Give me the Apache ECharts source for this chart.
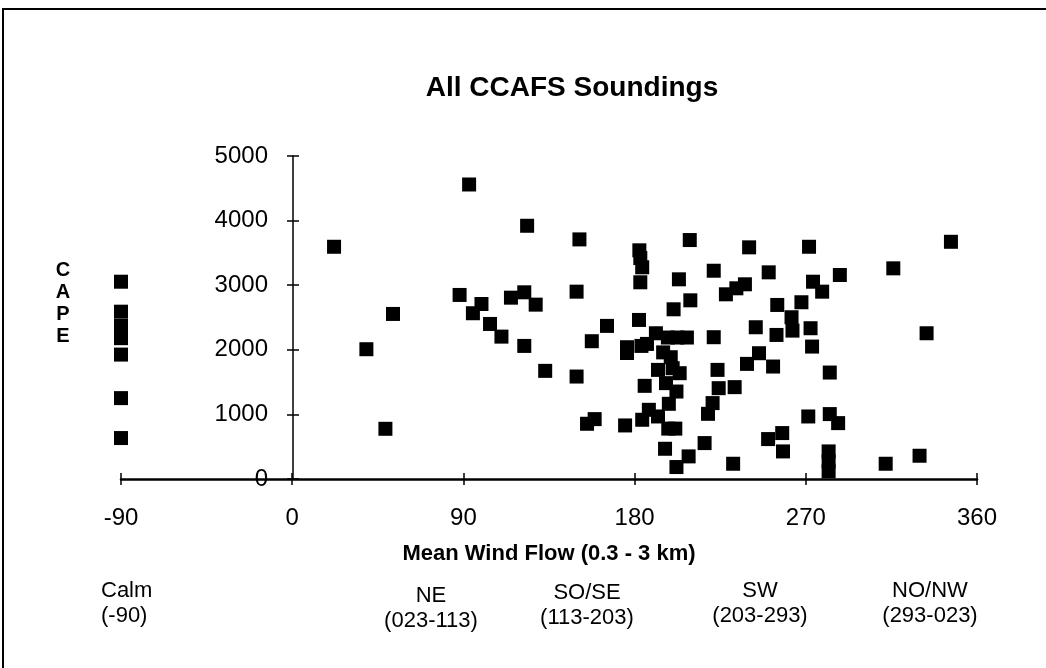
<!DOCTYPE html>
<html>
<head>
<meta charset="utf-8">
<script src="https://cdn.jsdelivr.net/npm/echarts@6/dist/echarts.min.js"></script>
<style>
  html, body { margin: 0; padding: 0; background: #fff; }
  #chart { width: 1046px; height: 668px; }
</style>
</head>
<body>
<div id="chart"></div>
<script>
// wind direction (deg, -90 = calm) and CAPE of each sounding
var windDir = [
  -90, -90, -90, -90, -90, -90, -90,
  22, 39, 49, 53,
  88, 93, 95, 99.5, 104, 110, 115, 122, 122, 123.5, 128, 133,
  149.5, 149.5, 151, 155, 159, 157.5, 165.5,
  175, 176, 176, 182.5, 183, 184, 183, 182.3, 183.6, 186.5, 185.3, 187.5, 184,
  191.2, 192.3, 192.3, 195, 199, 196.5, 196, 197.7, 198, 200, 197.5, 202.5, 207.5,
  201.4, 202, 202, 203.7, 203.3, 200.5,
  208.4, 209, 209.3, 216.8, 218.6, 221, 221.6, 221.6, 223.6, 224.2,
  228, 231.8, 232.6, 233.5, 238, 239.1, 240.2, 243.7, 245.4,
  250.2, 250.5, 252.8, 254.6, 255, 257.6, 258, 262.5, 263, 267.7,
  271.3, 271.7, 272.5, 273.3, 273.8, 278.6, 282.6, 282.6, 282, 282, 282, 287, 287.9,
  312, 316, 329.8, 333.5, 346.3
];
var cape = [
  3054, 2590, 2370, 2180, 1926, 1252, 634,
  3595, 2009, 777, 2555,
  2849, 4559, 2566, 2709, 2400, 2204, 2807, 2890, 2060, 3920, 2699, 1674,
  2900, 1586, 3709, 855, 927, 2133, 2370,
  829, 2040, 1950, 3540, 3420, 3277, 3045, 2462, 2060, 2091, 1442, 1071, 917,
  2256, 1689, 968, 1960, 1885, 1484, 468, 780, 1164, 1715, 2190, 2190, 2190,
  780, 1354, 185, 1638, 3091, 2627,
  350, 3699, 2766, 556, 1009, 1175, 3224, 2195, 1689, 1406,
  2859, 236, 1422, 2952, 3014, 1782, 3586, 2349, 1947,
  618, 3199, 1741, 2230, 2694, 711, 427, 2504, 2297, 2736,
  968, 3595, 2334, 2050, 3054, 2900, 1648, 1005, 427, 272, 118, 865, 3158,
  236, 3261, 360, 2256, 3672
];
var xTicks = [-90, 360, 90];   // min, max, interval
var yTicks = [0, 5000, 1000];
var dirNames = ['Calm', 'NE', 'SO/SE', 'SW', 'NO/NW'];
var dirRanges = ['(-90)', '(023-113)', '(113-203)', '(203-293)', '(293-023)'];

var font = 'Liberation Sans, Arial, sans-serif';
var points = windDir.map(function (d, i) { return [d, cape[i]]; });

var myChart = echarts.init(document.getElementById('chart'));

// labels under the axis name, one column per direction class
var dirX = [101, 431, 587, 760, 930];
var dirY = [578, 583, 580, 578, 578];
var dirAlign = ['left', 'center', 'center', 'center', 'center'];
var dirTexts = [];
dirNames.forEach(function (n, i) {
  dirTexts.push({
    type: 'text',
    x: dirX[i], y: dirY[i],
    style: { text: n + '\n' + dirRanges[i], fill: '#000', font: '22px ' + font,
             textAlign: dirAlign[i], lineHeight: 25 }
  });
});

var axisBlack = { color: '#000', width: 1.5 };
var tickFont = { fontFamily: font, fontSize: 24, color: '#000' };
var plain = function (v) { return String(v); };

// y axis sits at x = 0, i.e. 172px right of the grid's left edge
var yShift = -172;

var option = {
  backgroundColor: '#fff',
  animation: false,
  title: {
    text: 'All CCAFS Soundings',
    left: 567, top: 69, textAlign: 'center',
    textStyle: { fontFamily: font, fontSize: 28, fontWeight: 'bold', color: '#000' }
  },
  grid: { left: 121, right: 69, top: 156, bottom: 189 },
  xAxis: [
    {
      type: 'value',
      min: xTicks[0], max: xTicks[1], interval: xTicks[2],
      name: 'Mean Wind Flow (0.3 - 3 km)',
      nameLocation: 'middle', nameGap: 64,
      nameTextStyle: { fontFamily: font, fontSize: 22, fontWeight: 'bold', color: '#000' },
      axisLine: { onZero: false, lineStyle: { color: '#000', width: 2.5 } },
      axisTick: { show: true, length: 6, lineStyle: axisBlack },
      axisLabel: Object.assign({ margin: 27, formatter: plain }, tickFont),
      splitLine: { show: false }
    },
    {
      // second copy only to make the ticks cross the line
      type: 'value', position: 'bottom',
      min: xTicks[0], max: xTicks[1], interval: xTicks[2],
      axisLine: { show: false, onZero: false },
      axisTick: { show: true, inside: true, length: 6, lineStyle: axisBlack },
      axisLabel: { show: false },
      splitLine: { show: false }
    }
  ],
  yAxis: [
    {
      type: 'value', position: 'left', offset: yShift,
      min: yTicks[0], max: yTicks[1], interval: yTicks[2],
      axisLine: { show: true, onZero: false, lineStyle: axisBlack },
      axisTick: { show: true, length: 6, lineStyle: axisBlack },
      axisLabel: Object.assign({ margin: 25, formatter: plain }, tickFont),
      splitLine: { show: false }
    },
    {
      type: 'value', position: 'left', offset: yShift,
      min: yTicks[0], max: yTicks[1], interval: yTicks[2],
      axisLine: { show: false, onZero: false },
      axisTick: { show: true, inside: true, length: 6, lineStyle: axisBlack },
      axisLabel: { show: false },
      splitLine: { show: false }
    }
  ],
  graphic: [
    {
      type: 'rect', x: 3, y: 9,
      shape: { width: 1060, height: 700 },
      style: { fill: 'none', stroke: '#000', lineWidth: 2 }
    },
    {
      type: 'text', x: 63, y: 259,
      style: { text: 'C\nA\nP\nE', fill: '#000', font: 'bold 20px ' + font,
               textAlign: 'center', lineHeight: 22 }
    }
  ].concat(dirTexts),
  series: [
    {
      type: 'scatter',
      xAxisIndex: 0, yAxisIndex: 0,
      data: points,
      symbol: 'rect',
      symbolSize: 14,
      itemStyle: { color: '#000', opacity: 1 }
    }
  ]
};

myChart.setOption(option);
</script>
</body>
</html>
